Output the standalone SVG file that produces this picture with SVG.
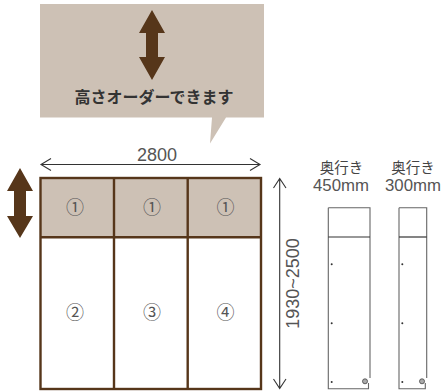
<svg xmlns="http://www.w3.org/2000/svg" width="443" height="392" viewBox="0 0 443 392">
<style>
.t{font-family:"Liberation Sans","Noto Sans CJK JP",sans-serif;fill:#555}
.j{font-family:"Noto Sans CJK JP",sans-serif;fill:#444}
.c{font-family:"Noto Sans CJK JP",sans-serif;font-size:18px;fill:#555;text-anchor:middle}
.b{fill:none;stroke:#56361a;stroke-width:2.4}
.l{fill:none;stroke:#333;stroke-width:1.100}
.s{fill:none;stroke:#666;stroke-width:1.100}
.d{fill:#333}
.big{fill:#56361a}
</style>
<rect width="443" height="392" fill="#fff"/>
<g id="callout">
<path d="M40 4H264V117.500H226L210 143.500L212 117.500H40Z" fill="#cdc1b5"/>
<path class="big" d="M152 10L165 33H158V57H165L152 80L139 57H146V33H139Z"/>
<text x="154" y="103" font-family="'Noto Sans CJK JP',sans-serif" font-size="16" font-weight="700" fill="#333" text-anchor="middle">高さオーダーできます</text>
</g>
<g id="left-arrow"><path class="big" d="M20 168L33 191H26V216H33L20 238L7 216H14V191H7Z"/></g>
<g id="frame">
<rect x="41" y="178" width="220" height="59" fill="#cdc1b5"/>
<rect x="40.500" y="178" width="220.500" height="211" class="b"/>
<path class="b" d="M40 237.300H262M114 177V390M187.700 177V390"/>
</g>
<g id="panel-top-1"><text class="c" x="75" y="213.500">①</text></g>
<g id="panel-top-2"><text class="c" x="152" y="213.500">①</text></g>
<g id="panel-top-3"><text class="c" x="225.500" y="213.500">①</text></g>
<g id="panel-2"><text class="c" x="75" y="318.500">②</text></g>
<g id="panel-3"><text class="c" x="152" y="318.500">③</text></g>
<g id="panel-4"><text class="c" x="225.500" y="318.500">④</text></g>
<g id="connectors">
<path class="l" d="M41 164.500H260M51 158.500L41 164.500L51 170.500M250 158.500L260 164.500L250 170.500"/>
<path class="l" d="M279.700 179V388M273.500 188L279.700 178.500L286 188M273.500 379L279.700 388.500L286 379"/>
</g>
<text class="t" x="157" y="160.500" font-size="18" text-anchor="middle">2800</text>
<text class="t" font-size="18" text-anchor="middle" transform="translate(299 283.500) rotate(-90)">1930~2500</text>
<g id="depth-450">
<text class="j" x="341.500" y="173" font-size="14.500" text-anchor="middle">奥行き</text>
<text class="t" x="341" y="190.500" font-size="16.800" text-anchor="middle">450mm</text>
<path class="s" d="M328.300 207.700H370V378M328.300 207.700V388.700H368.500V383"/>
<path fill="none" stroke="#333" stroke-width="1.200" d="M328.300 237H370"/>
<circle class="d" cx="331.700" cy="264.300" r="1"/><circle class="d" cx="331.700" cy="323.300" r="1"/><circle class="d" cx="331.700" cy="382" r="1"/>
<circle cx="365" cy="381.300" r="2.500" fill="#aaa" stroke="#444" stroke-width=".8"/>
</g>
<g id="depth-300">
<text class="j" x="413" y="173" font-size="14.500" text-anchor="middle">奥行き</text>
<text class="t" x="413" y="190.500" font-size="16.800" text-anchor="middle">300mm</text>
<path class="s" d="M399 207.700H426.700V378M399 207.700V388.700H425.300V383"/>
<path fill="none" stroke="#333" stroke-width="1.200" d="M399 237H426.700"/>
<circle class="d" cx="402.300" cy="264.300" r="1"/><circle class="d" cx="402.300" cy="323.300" r="1"/><circle class="d" cx="402.300" cy="382" r="1"/>
<circle cx="422" cy="381.300" r="2.500" fill="#aaa" stroke="#444" stroke-width=".8"/>
</g>
</svg>
